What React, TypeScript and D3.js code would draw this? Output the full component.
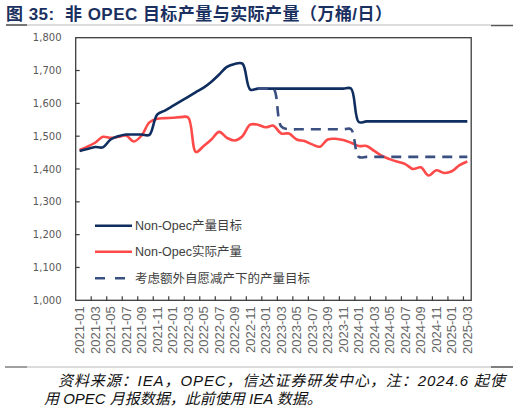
import React from "react";
import * as d3 from "d3";

const months: string[] = [
  "2021-01","2021-02","2021-03","2021-04","2021-05","2021-06","2021-07","2021-08","2021-09","2021-10","2021-11","2021-12",
  "2022-01","2022-02","2022-03","2022-04","2022-05","2022-06","2022-07","2022-08","2022-09","2022-10","2022-11","2022-12",
  "2023-01","2023-02","2023-03","2023-04","2023-05","2023-06","2023-07","2023-08","2023-09","2023-10","2023-11","2023-12",
  "2024-01","2024-02","2024-03","2024-04","2024-05","2024-06","2024-07","2024-08","2024-09","2024-10","2024-11","2024-12",
  "2025-01","2025-02","2025-03",
];

const targetValues: number[] = [
  1455, 1461, 1467, 1466, 1490, 1500, 1505, 1505, 1505, 1504,
  1566, 1578, 1592, 1606, 1620, 1634, 1648, 1666, 1688, 1711,
  1720, 1721, 1642, 1645, 1645, 1645, 1645, 1645, 1645, 1645,
  1645, 1645, 1645, 1645, 1645, 1645, 1543, 1545, 1545, 1545,
  1545, 1545, 1545, 1545, 1545, 1545, 1545, 1545, 1545, 1545, 1545,
];

const actualValues: number[] = [
  1458, 1468, 1480, 1498, 1495, 1498, 1502, 1484, 1502, 1542,
  1553, 1555, 1556, 1558, 1557, 1452, 1470, 1490, 1513, 1495,
  1487, 1500, 1535, 1535, 1527, 1532, 1508, 1508, 1490, 1485,
  1475, 1468, 1490, 1492, 1488, 1480, 1470, 1470, 1455, 1440,
  1430, 1422, 1415, 1400, 1405, 1380, 1396, 1388, 1393, 1412, 1423,
];

// voluntary-cut adjusted target, starting 2022-12
const cutStart = 23;
const cutValues: number[] = [
  1645, 1645, 1645, 1530, 1521, 1521, 1521, 1521, 1521, 1521,
  1521, 1521, 1521, 1437, 1437, 1437, 1437, 1437, 1437, 1437,
  1437, 1437, 1437, 1437, 1437, 1437, 1437, 1437,
];

const yTicks: number[] = [1000, 1100, 1200, 1300, 1400, 1500, 1600, 1700, 1800];

const seriesNames = ["Non-Opec产量目标", "Non-Opec实际产量", "考虑额外自愿减产下的产量目标"];

const NAVY = "#0f2d5f";
const RED = "#ff4a4a";
const DASH = "#3a5080";

export default function App() {
  const left = 75.7, right = 471.2, top = 37.7, bottom = 300.3;
  const x = d3.scalePoint<string>().domain(months).range([left, right]).padding(0.5);
  const step = x.step();
  const y = d3.scaleLinear().domain([1000, 1800]).range([bottom, top]);

  const line = d3
    .line<[number, number]>()
    .x((d) => d[0])
    .y((d) => d[1])
    .curve(d3.curveCatmullRom.alpha(0.5));

  const pts = (vals: number[], offset = 0): [number, number][] =>
    vals.map((v, i) => [x(months[i + offset]) as number, y(v)]);

  const xTickIdx = months.map((_, i) => i).filter((i) => i > 0 && i % 2 === 0);
  const labelIdx = months.map((_, i) => i).filter((i) => i % 2 === 0);

  const axisFont = "'Liberation Sans', Arial, sans-serif";
  const cjkFont = "'Liberation Sans', Arial, 'Noto Sans CJK SC', sans-serif";

  const legendY = [225.7, 251.7, 278.3];

  return (
    <svg
      width={519}
      height={408}
      style={{ position: "absolute", left: 0, top: 0, background: "#fff" }}
    >
      <rect x={0} y={0} width={519} height={408} fill="#fff" />
      {/* title */}
      <text
        x={6}
        y={19.5}
        fontSize={17}
        fontWeight="bold"
        fill="#1a3060"
        fontFamily={cjkFont}
        textLength={386}
        lengthAdjust="spacing"
        style={{ whiteSpace: "pre" }}
      >
        {"图 35:  非 OPEC 目标产量与实际产量（万桶/日）"}
      </text>
      <line x1={6} x2={491} y1={25} y2={25} stroke="#b8b8b8" strokeWidth={1} />
      <line x1={6} x2={27} y1={25} y2={25} stroke="#555" strokeWidth={1.5} />
      <line x1={491} x2={513} y1={25.5} y2={25.5} stroke="#555" strokeWidth={1.5} />

      {/* y labels */}
      {yTicks.map((t) => (
        <text
          key={t}
          x={61.5}
          y={y(t)}
          dy="0.35em"
          textAnchor="end"
          fontSize={10}
          fill="#595959"
          fontFamily="'DejaVu Sans', Verdana, sans-serif"
        >
          {d3.format(",")(t)}
        </text>
      ))}
      {/* y ticks inside */}
      {yTicks.slice(1, -1).map((t) => (
        <line key={t} x1={left} x2={left + 4} y1={y(t)} y2={y(t)} stroke="#3c3c3c" strokeWidth={1.2} />
      ))}
      {/* x ticks inside */}
      {xTickIdx.map((i) => {
        const xx = (x(months[i]) as number) - step / 2;
        return <line key={i} x1={xx} x2={xx} y1={bottom} y2={bottom - 4} stroke="#3c3c3c" strokeWidth={1.2} />;
      })}
      {/* x labels */}
      {labelIdx.map((i) => {
        const xx = x(months[i]) as number;
        return (
          <text
            key={i}
            transform={`translate(${xx},${bottom + 6}) rotate(-90)`}
            textAnchor="end"
            dy="0.35em"
            fontSize={13}
            fill="#666"
            fontFamily={axisFont}
          >
            {months[i]}
          </text>
        );
      })}

      {/* series */}
      <path d={line(pts(actualValues)) || ""} fill="none" stroke={RED} strokeWidth={2.6} />
      <path d={line(pts(targetValues)) || ""} fill="none" stroke={NAVY} strokeWidth={2.6} />
      <path
        d={line(pts(cutValues, cutStart)) || ""}
        fill="none"
        stroke={DASH}
        strokeWidth={2.6}
        strokeDasharray="10,7"
      />

      {/* frame */}
      <rect x={left} y={top} width={right - left} height={bottom - top} fill="none" stroke="#3c3c3c" strokeWidth={1.3} />

      {/* legend */}
      <line x1={95} x2={132} y1={legendY[0]} y2={legendY[0]} stroke={NAVY} strokeWidth={2.6} />
      <line x1={95} x2={132} y1={legendY[1]} y2={legendY[1]} stroke={RED} strokeWidth={2.6} />
      <line x1={95} x2={132} y1={legendY[2]} y2={legendY[2]} stroke={DASH} strokeWidth={2.6} strokeDasharray="10,10" />
      {seriesNames.map((n, i) => (
        <text
          key={n}
          x={135}
          y={legendY[i]}
          dy="0.36em"
          fontSize={12.5}
          fill="#404040"
          fontFamily={cjkFont}
        >
          {n}
        </text>
      ))}

      {/* footer */}
      <line x1={5} x2={491} y1={367} y2={367} stroke="#b8b8b8" strokeWidth={1} />
      <line x1={5} x2={27} y1={367} y2={367} stroke="#777" strokeWidth={1.2} />
      <line x1={491} x2={513} y1={367} y2={367} stroke="#555" strokeWidth={1.5} />
      <text
        x={58}
        y={385.5}
        fontSize={15}
        fontStyle="italic"
        fill="#111"
        fontFamily={cjkFont}
        textLength={447}
        lengthAdjust="spacing"
      >
        资料来源：IEA，OPEC，信达证券研发中心，注：2024.6 起使
      </text>
      <text x={44} y={404} fontSize={15} fontStyle="italic" fill="#111" fontFamily={cjkFont}>
        用 OPEC 月报数据，此前使用 IEA 数据。
      </text>
    </svg>
  );
}
